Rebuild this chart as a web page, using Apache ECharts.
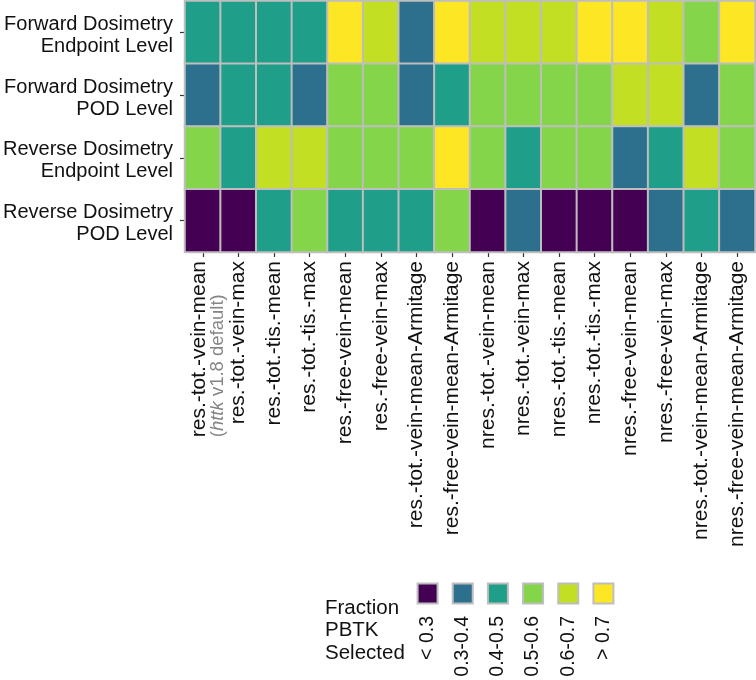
<!DOCTYPE html>
<html>
<head>
<meta charset="utf-8">
<script src="https://cdn.jsdelivr.net/npm/echarts@6/dist/echarts.min.js"></script>
<style>
html,body{margin:0;padding:0;background:#fff;}
#chart{width:756px;height:680px;}
</style>
</head>
<body>
<div id="chart"></div>
<script>
// ---- data ----
const rowLabels = [
  'Forward Dosimetry\nEndpoint Level',
  'Forward Dosimetry\nPOD Level',
  'Reverse Dosimetry\nEndpoint Level',
  'Reverse Dosimetry\nPOD Level'
];
const models = [
  'res.-tot.-vein-mean', 'res.-tot.-vein-max', 'res.-tot.-tis.-mean', 'res.-tot.-tis.-max',
  'res.-free-vein-mean', 'res.-free-vein-max', 'res.-tot.-vein-mean-Armitage', 'res.-free-vein-mean-Armitage',
  'nres.-tot.-vein-mean', 'nres.-tot.-vein-max', 'nres.-tot.-tis.-mean', 'nres.-tot.-tis.-max',
  'nres.-free-vein-mean', 'nres.-free-vein-max', 'nres.-tot.-vein-mean-Armitage', 'nres.-free-vein-mean-Armitage'
];
const binLabels = ['< 0.3', '0.3-0.4', '0.4-0.5', '0.5-0.6', '0.6-0.7', '> 0.7'];
// bin index (0 = < 0.3 ... 5 = > 0.7) per model, for each row
const fwdEndpoint = [2, 2, 2, 2, 5, 4, 1, 5, 4, 4, 4, 5, 5, 4, 3, 5];
const fwdPOD      = [1, 2, 2, 1, 3, 3, 1, 2, 3, 3, 3, 3, 4, 4, 1, 3];
const revEndpoint = [3, 2, 4, 4, 3, 3, 3, 5, 3, 2, 3, 3, 1, 2, 4, 3];
const revPOD      = [0, 0, 2, 3, 2, 2, 2, 3, 0, 1, 0, 0, 0, 1, 2, 1];
const binColors = ['#440154', '#2D708E', '#1F9E89', '#85D54A', '#C2DF23', '#FDE725'];

// ---- build ----
const rowsData = [fwdEndpoint, fwdPOD, revEndpoint, revPOD];
const heatData = [];
rowsData.forEach((arr, r) => arr.forEach((v, c) => heatData.push([c, r, v])));
const legendData = binLabels.map((b, i) => [i, 0, i]);

const FONT = '"Liberation Sans", Arial, sans-serif';
const chart = echarts.init(document.getElementById('chart'), null, {renderer: 'canvas'});

const xData = models.map((m, i) => i === 0
  ? {value: m, textStyle: {padding: [11, 0, 0, 0]}}
  : m);

chart.setOption({
  animation: false,
  backgroundColor: '#ffffff',
  textStyle: {fontFamily: FONT},
  title: {
    text: 'Fraction\nPBTK\nSelected',
    left: 325, top: 597,
    padding: 0,
    textStyle: {fontFamily: FONT, fontSize: 20.5, fontWeight: 'normal', lineHeight: 22.5, color: '#111'}
  },
  grid: [
    {left: 185, top: 1, width: 570, height: 251, containLabel: false, outerBoundsMode: 'none'},
    {left: 410, top: 583, width: 211, height: 21, containLabel: false, outerBoundsMode: 'none'}
  ],
  xAxis: [
    {
      type: 'category', gridIndex: 0, data: xData,
      axisLine: {show: false},
      axisTick: {show: true, alignWithLabel: true, length: 5, lineStyle: {color: '#333', width: 1.2}},
      axisLabel: {
        rotate: 90, interval: 0, margin: 9, fontSize: 21, color: '#111', fontFamily: FONT,
        formatter: function (v, i) {
          if (i === 0) return '{a|' + v + '}\n{g|(}{gi|httk}{g| v1.8 default)}';
          return v;
        },
        rich: {
          a: {fontSize: 21, color: '#111', lineHeight: 19, fontFamily: FONT, align: 'left'},
          g: {fontSize: 18.5, color: '#858585', lineHeight: 19, fontFamily: FONT, align: 'left'},
          gi: {fontSize: 18.5, color: '#858585', lineHeight: 19, fontFamily: FONT, fontStyle: 'italic', align: 'left'}
        }
      },
      splitLine: {show: false}
    },
    {
      type: 'category', gridIndex: 1, data: binLabels,
      axisLine: {show: false}, axisTick: {show: false},
      axisLabel: {rotate: 90, interval: 0, margin: 12, fontSize: 19.5, color: '#111', fontFamily: FONT},
      splitLine: {show: false}
    }
  ],
  yAxis: [
    {
      type: 'category', gridIndex: 0, data: rowLabels, inverse: true,
      axisLine: {show: false},
      axisTick: {show: true, alignWithLabel: true, length: 5, lineStyle: {color: '#333', width: 1.2}},
      axisLabel: {
        margin: 12, fontSize: 20, lineHeight: 22, color: '#111', fontFamily: FONT, align: 'right',
        formatter: function (v) {
          return '{s| }\n' + v.split('\n').map(t => '{t|' + t + '}').join('\n');
        },
        rich: {
          s: {fontSize: 1, lineHeight: 6, align: 'right'},
          t: {fontSize: 20, lineHeight: 22, color: '#111', fontFamily: FONT, align: 'right'}
        }
      },
      splitLine: {show: false}
    },
    {
      type: 'category', gridIndex: 1, data: ['key'],
      show: false
    }
  ],
  visualMap: {
    type: 'piecewise', show: false, dimension: 2, seriesIndex: [0, 1],
    pieces: binColors.map((c, i) => ({value: i, color: c}))
  },
  series: [
    {
      type: 'heatmap', xAxisIndex: 0, yAxisIndex: 0, data: heatData,
      itemStyle: {borderColor: '#BEBEBE', borderWidth: 2},
      emphasis: {disabled: true},
      label: {show: false}
    },
    {
      type: 'scatter', xAxisIndex: 1, yAxisIndex: 1, data: legendData,
      symbol: 'rect', symbolSize: 20,
      itemStyle: {borderColor: '#BEBEBE', borderWidth: 2, opacity: 1},
      emphasis: {disabled: true}
    }
  ]
});
</script>
</body>
</html>
